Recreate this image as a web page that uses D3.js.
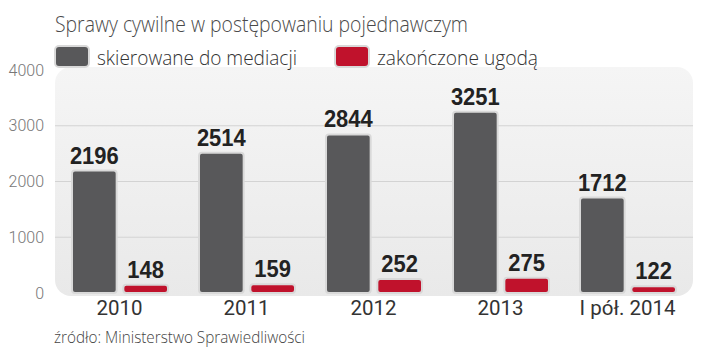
<!DOCTYPE html>
<html><head><meta charset="utf-8">
<script src="https://cdn.jsdelivr.net/npm/d3@7"></script>
<style>
html,body{margin:0;padding:0;background:#fff;}
svg{display:block;}
</style></head>
<body>
<svg id="c" width="720" height="356"></svg>
<script>
const categories = ["2010", "2011", "2012", "2013", "I pół. 2014"];
const seriesNames = ["skierowane do mediacji", "zakończone ugodą"];
const mediacje = [2196, 2514, 2844, 3251, 1712];
const ugody = [148, 159, 252, 275, 122];
const yTicks = [0, 1000, 2000, 3000, 4000];
const colors = ["#58585a", "#c0122c"];
const titleText = "Sprawy cywilne w postępowaniu pojednawczym";
const sourceText = "źródło: Ministerstwo Sprawiedliwości";

const svg = d3.select("#c");
const lightFont = "'Open Sans', Roboto, Lato, sans-serif";
const x = d3.scaleBand().domain(categories).range([56, 691]).padding(0);
const sub = d3.scaleBand().domain([0, 1]).range([16, 112]).paddingInner(0.13);
const y = d3.scaleLinear().domain([0, 4000]).range([293, 70]);

const defs = svg.append("defs");
const g = defs.append("linearGradient").attr("id", "bg").attr("x1", 0).attr("y1", 0).attr("x2", 0).attr("y2", 1);
g.append("stop").attr("offset", "0%").attr("stop-color", "#f5f5f5");
g.append("stop").attr("offset", "100%").attr("stop-color", "#e9e9e9");

svg.append("rect").attr("x", 55).attr("y", 67).attr("width", 638).attr("height", 229)
  .attr("rx", 16).attr("fill", "url(#bg)");

// gridlines
svg.append("g").selectAll("line").data(yTicks.filter(d => d > 0 && d < 4000)).join("line")
  .attr("x1", 55).attr("x2", 693).attr("y1", d => y(d)).attr("y2", d => y(d))
  .attr("stroke", "#d3d3d3").attr("stroke-width", 1);

// y axis
const ya = svg.append("g").attr("transform", "translate(47,0)")
  .call(d3.axisLeft(y).tickValues(yTicks).tickSize(0).tickPadding(3).tickFormat(d3.format("d")));
ya.select(".domain").remove();
ya.selectAll("text").attr("font-family", "Roboto, sans-serif").attr("font-weight", 300)
  .attr("font-size", 16).attr("fill", "#777");

// x axis
const xa = svg.append("g").attr("transform", `translate(0,${y(0)})`)
  .call(d3.axisBottom(x).tickSize(0).tickPadding(7));
xa.select(".domain").remove();
xa.selectAll("text").attr("font-family", "Roboto, sans-serif").attr("font-weight", 400)
  .attr("font-size", 20.5).attr("fill", "#333");

const series = [mediacje, ugody];
const groups = svg.append("g").selectAll("g").data(categories).join("g")
  .attr("transform", d => `translate(${x(d)},0)`);

series.forEach((vals, si) => {
  groups.append("rect")
    .attr("x", sub(si)).attr("width", sub.bandwidth())
    .attr("y", (d, i) => y(vals[i]))
    .attr("height", (d, i) => y(0) - y(vals[i]))
    .attr("rx", 3).attr("fill", colors[si])
    .attr("stroke", "#d9d9d9").attr("stroke-width", 2);
  groups.append("text")
    .attr("x", sub(si) + sub.bandwidth() / 2)
    .attr("y", (d, i) => y(vals[i]) - 7)
    .attr("text-anchor", "middle")
    .attr("font-family", "'Liberation Sans', Arial, sans-serif")
    .attr("font-weight", 700).attr("font-size", 24.5)
    .attr("textLength", (d, i) => String(vals[i]).length * 12.2)
    .attr("lengthAdjust", "spacingAndGlyphs")
    .attr("fill", "#222")
    .text((d, i) => vals[i]);
});

// title
svg.append("text").attr("x", 55).attr("y", 32).attr("font-family", lightFont)
  .attr("font-weight", 300).attr("font-size", 22).attr("fill", "#4a4a4a")
  .attr("textLength", 413).attr("lengthAdjust", "spacingAndGlyphs").text(titleText);

// legend
const legX = [55, 335];
const legW = [200, 161];
const leg = svg.append("g").selectAll("g").data(seriesNames).join("g")
  .attr("transform", (d, i) => `translate(${legX[i]},46)`);
leg.append("rect").attr("width", 34).attr("height", 21).attr("rx", 4)
  .attr("fill", (d, i) => colors[i]).attr("stroke", "#d9d9d9").attr("stroke-width", 2);
leg.append("text").attr("x", 42).attr("y", 18.5).attr("font-family", lightFont)
  .attr("font-weight", 300).attr("font-size", 20.5).attr("fill", "#333")
  .attr("textLength", (d, i) => legW[i]).attr("lengthAdjust", "spacingAndGlyphs").text(d => d);

// source
svg.append("text").attr("x", 54).attr("y", 343).attr("font-family", lightFont)
  .attr("font-weight", 300).attr("font-size", 15.5).attr("fill", "#444")
  .attr("textLength", 251).attr("lengthAdjust", "spacingAndGlyphs").text(sourceText);
</script>
</body></html>
